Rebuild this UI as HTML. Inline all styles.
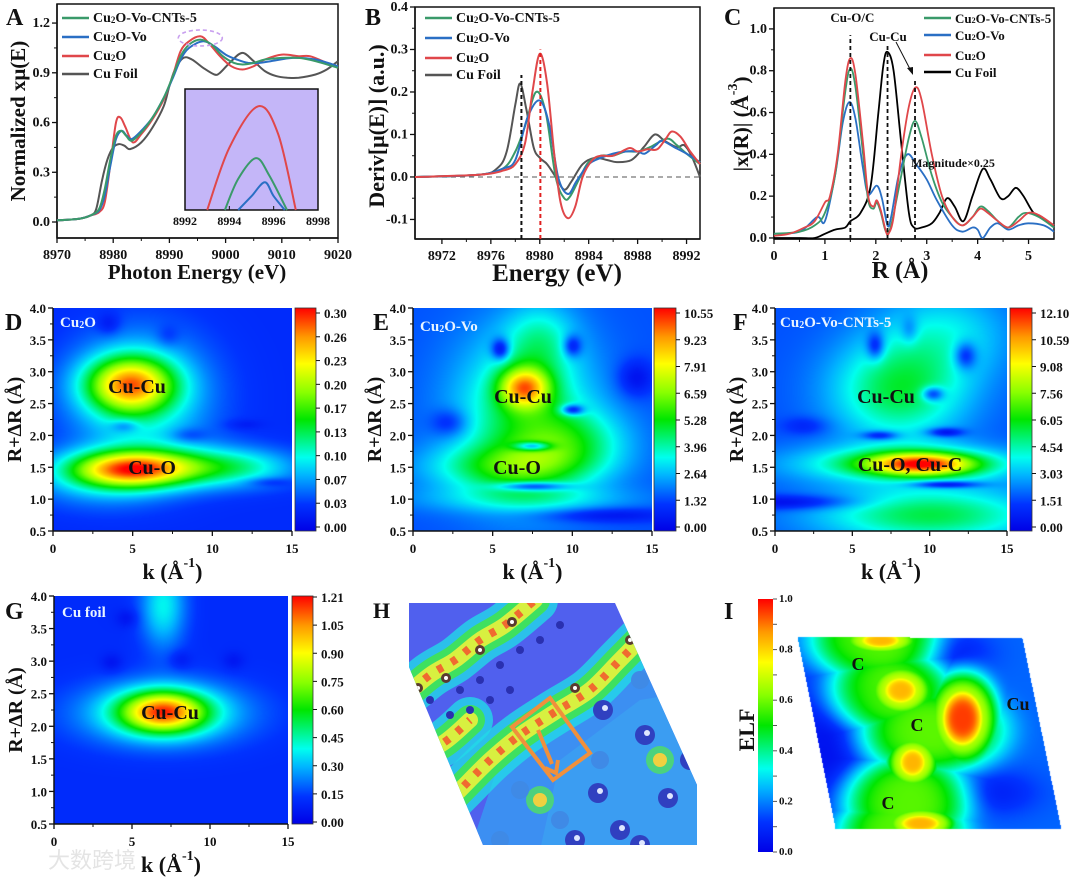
<!DOCTYPE html>
<html><head><meta charset="utf-8"><title>XAS / EXAFS figure</title>
<style>
html,body{margin:0;padding:0;background:#fff;}
body{width:1080px;height:880px;position:relative;overflow:hidden;font-family:"Liberation Serif",serif;}
canvas{position:absolute;display:block;}
#ov{position:absolute;left:0;top:0;}
</style></head>
<body>
<canvas id="hD" style="left:53px;top:308px" width="239" height="223"></canvas>
<canvas id="hE" style="left:413px;top:308px" width="239" height="223"></canvas>
<canvas id="hF" style="left:775px;top:308px" width="232" height="223"></canvas>
<canvas id="hG" style="left:54px;top:596px" width="234" height="228"></canvas>
<canvas id="hI" style="left:795px;top:634px" width="268" height="198"></canvas>
<svg id="ov" width="1080" height="880" xmlns="http://www.w3.org/2000/svg">
<defs>
<linearGradient id="jet" x1="0" y1="1" x2="0" y2="0">
<stop offset="0" stop-color="#0000e6"/><stop offset="0.12" stop-color="#0033ff"/><stop offset="0.25" stop-color="#00b4ff"/><stop offset="0.33" stop-color="#00ffee"/><stop offset="0.5" stop-color="#00e600"/><stop offset="0.62" stop-color="#88ff00"/><stop offset="0.75" stop-color="#ffff00"/><stop offset="0.87" stop-color="#ff9900"/><stop offset="1" stop-color="#ff0000"/>
</linearGradient>
<clipPath id="hclip"><polygon points="409,603 615,603 697,785 697,845 483,845 409,667"/></clipPath>
</defs>
</svg>
<script>
// ---------- DATA ----------
const seriesNames=["Cu_2O-Vo-CNTs-5","Cu_2O-Vo","Cu_2O","Cu Foil"];
const seriesColorsA=["#3a9a6a","#2a6fc4","#e0474a","#555555"];
const seriesColorsC=["#3a9a6a","#2a6fc4","#e0474a","#000000"];
// Panel A: normalized XANES
const aCnts=[[8970,0.01],[8974,0.02],[8976,0.04],[8977.5,0.08],[8978.5,0.2],[8979.5,0.38],[8980.5,0.52],[8981.4,0.55],[8982.3,0.52],[8983.3,0.49],[8985,0.54],[8987,0.63],[8989,0.75],[8990.5,0.87],[8992,1.0],[8993.5,1.07],[8995.5,1.1],[8997.5,1.07],[8999.5,1.0],[9001.5,0.96],[9003,0.95],[9005,0.96],[9007,0.98],[9010,0.99],[9013,0.99],[9016,0.97],[9020,0.93]];
const aVo=[[8970,0.01],[8974,0.02],[8976,0.04],[8977.5,0.07],[8978.5,0.16],[8979.5,0.34],[8980.5,0.5],[8981.5,0.55],[8982.4,0.52],[8983.3,0.5],[8985,0.55],[8987,0.63],[8989,0.75],[8990.5,0.86],[8992,0.98],[8993.5,1.05],[8996,1.09],[8998,1.06],[9000,1.01],[9002,0.98],[9004,0.96],[9006,0.96],[9008,0.97],[9012,0.99],[9016,0.98],[9020,0.94]];
const aCu2O=[[8970,0.01],[8974,0.02],[8976,0.04],[8977.5,0.06],[8978.5,0.12],[8979.5,0.35],[8980.5,0.6],[8981.3,0.63],[8982.2,0.57],[8983.5,0.48],[8985,0.53],[8987,0.62],[8989,0.74],[8990.5,0.87],[8992,1.03],[8993.5,1.09],[8995.5,1.12],[8997,1.08],[8999,1.0],[9001,0.94],[9003,0.92],[9005,0.94],[9007,0.98],[9010,1.01],[9013,1.0],[9015,1.0],[9018,0.96],[9020,0.93]];
const aFoil=[[8970,0.01],[8974,0.02],[8976,0.04],[8977,0.08],[8978,0.25],[8979,0.38],[8980,0.45],[8981,0.47],[8982,0.46],[8983,0.44],[8985,0.48],[8987,0.57],[8989,0.7],[8990,0.82],[8991,0.92],[8992.5,0.99],[8994,0.98],[8996,0.93],[8998,0.89],[8999,0.9],[9001,0.97],[9003,1.02],[9005,0.97],[9007,0.91],[9009,0.88],[9011,0.87],[9013,0.87],[9016,0.89],[9018,0.92],[9020,0.97]];
const aInsetCnts=[[8993.8,1.09],[8994.4,1.099],[8995.2,1.105],[8995.8,1.1],[8996.6,1.09]];
const aInsetVo=[[8994.4,1.09],[8995.0,1.094],[8995.6,1.098],[8996,1.094],[8996.5,1.09]];
const aInsetCu2O=[[8993,1.09],[8994,1.108],[8995.3,1.12],[8996.2,1.112],[8997,1.09]];
const aXTicks=[8970,8980,8990,9000,9010,9020];
const aYTicks=[0.0,0.3,0.6,0.9,1.2];
const aInsetXTicks=[8992,8994,8996,8998];
// Panel B: derivative
const bCnts=[[8969.8,0],[8975,0.005],[8977,0.02],[8978,0.06],[8978.8,0.12],[8979.7,0.2],[8980.5,0.15],[8981.3,0.0],[8982,-0.05],[8982.5,-0.045],[8983.3,0.0],[8984,0.035],[8985,0.05],[8986,0.05],[8987,0.06],[8988,0.06],[8989,0.07],[8990.4,0.09],[8991.2,0.075],[8992,0.055],[8993.1,0.03]];
const bVo=[[8969.8,0],[8975,0.005],[8977,0.02],[8978,0.04],[8979,0.14],[8980,0.18],[8980.8,0.12],[8981.5,0.0],[8982.3,-0.04],[8983,-0.01],[8984,0.03],[8985,0.045],[8986,0.055],[8987,0.06],[8988,0.06],[8988.6,0.055],[8989.5,0.075],[8990,0.085],[8991,0.07],[8992,0.055],[8993.1,0.035]];
const bCu2O=[[8969.8,0],[8975,0.005],[8977,0.015],[8978,0.03],[8978.8,0.08],[8979.4,0.2],[8980,0.29],[8980.6,0.22],[8981.2,0.05],[8981.7,-0.06],[8982.3,-0.097],[8982.9,-0.07],[8983.5,0.0],[8984.3,0.04],[8985,0.05],[8986,0.05],[8987.3,0.068],[8988,0.06],[8988.8,0.065],[8989.6,0.065],[8990.3,0.09],[8990.8,0.107],[8991.5,0.095],[8992.3,0.06],[8993.1,0.03]];
const bFoil=[[8969.8,0],[8975,0.005],[8976.5,0.02],[8977.3,0.06],[8978,0.17],[8978.4,0.22],[8978.9,0.16],[8979.5,0.07],[8980,0.045],[8980.6,0.03],[8981.3,0.0],[8982,-0.03],[8982.6,-0.01],[8983.5,0.03],[8984.5,0.045],[8985.5,0.04],[8986.3,0.035],[8987.5,0.04],[8988.5,0.07],[8989.4,0.1],[8990.2,0.085],[8991.2,0.07],[8991.8,0.075],[8992.4,0.05],[8993.1,0.0]];
const bXTicks=[8972,8976,8980,8984,8988,8992];
const bYTicks=[-0.1,0.0,0.1,0.2,0.3,0.4];
const bEdges=[8978.5,8980.05];
const bEdgeTops=[0.24,0.3];
// Panel C: FT-EXAFS
const cCnts=[[0,0.02],[0.5,0.03],[0.8,0.06],[1.0,0.12],[1.2,0.3],[1.4,0.7],[1.5,0.81],[1.6,0.72],[1.75,0.4],[1.85,0.18],[1.95,0.14],[2.02,0.17],[2.1,0.12],[2.2,0.03],[2.3,0.06],[2.5,0.3],[2.65,0.48],[2.77,0.56],[2.9,0.48],[3.1,0.3],[3.3,0.17],[3.5,0.1],[3.7,0.06],[3.9,0.1],[4.05,0.15],[4.2,0.13],[4.4,0.08],[4.6,0.05],[4.8,0.1],[4.95,0.12],[5.2,0.1],[5.5,0.05]];
const cVo=[[0,0.02],[0.5,0.03],[0.85,0.1],[1.0,0.08],[1.2,0.3],[1.35,0.55],[1.48,0.65],[1.6,0.57],[1.75,0.33],[1.85,0.21],[2.02,0.25],[2.12,0.19],[2.23,0.06],[2.3,0.1],[2.45,0.3],[2.62,0.4],[2.8,0.35],[3.0,0.28],[3.2,0.18],[3.5,0.06],[3.7,0.03],[3.9,0.05],[4.0,0.04],[4.1,0.0],[4.25,0.05],[4.4,0.07],[4.6,0.04],[4.8,0.06],[5.0,0.07],[5.3,0.06],[5.5,0.03]];
const cCu2O=[[0,0.01],[0.3,0.02],[0.6,0.05],[0.8,0.08],[1.0,0.17],[1.1,0.2],[1.25,0.4],[1.4,0.75],[1.5,0.86],[1.6,0.78],[1.75,0.45],[1.85,0.2],[1.95,0.15],[2.02,0.18],[2.1,0.13],[2.2,0.03],[2.25,0.02],[2.35,0.1],[2.5,0.4],[2.65,0.63],[2.78,0.72],[2.9,0.66],[3.1,0.4],[3.3,0.2],[3.5,0.1],[3.7,0.06],[3.9,0.1],[4.05,0.14],[4.2,0.12],[4.4,0.08],[4.6,0.05],[4.8,0.08],[5.0,0.12],[5.2,0.11],[5.5,0.06]];
const cFoil=[[0,0.0],[0.5,0.0],[0.8,0.0],[1.0,0.02],[1.2,0.04],[1.4,0.05],[1.5,0.08],[1.7,0.12],[1.9,0.25],[2.05,0.6],[2.15,0.83],[2.23,0.89],[2.35,0.8],[2.5,0.45],[2.65,0.12],[2.75,0.05],[2.9,0.05],[3.1,0.07],[3.25,0.12],[3.4,0.19],[3.55,0.15],[3.72,0.08],[3.9,0.2],[4.1,0.33],[4.25,0.28],[4.45,0.19],[4.6,0.2],[4.75,0.24],[4.9,0.2],[5.1,0.12],[5.3,0.09],[5.5,0.06]];
const cXTicks=[0,1,2,3,4,5];
const cYTicks=[0.0,0.2,0.4,0.6,0.8,1.0];
const cPeaks=[1.5,2.23,2.77];
const cPeakTops=[0.97,0.93,0.76];
// Heatmaps: blobs [k, R, relative amplitude, sigma k, sigma R]
const dBg=0.1;
const dBlobs=[[4.8,1.47,0.62,2.6,0.2],[9,1.5,0.25,3.5,0.22],[4.8,2.8,0.6,1.9,0.3],[5.5,2.6,0.25,3,0.7],[3,1.3,0.15,3,0.3],[12,1.5,0.12,2.5,0.2],[3.5,3.75,-0.08,0.5,0.12],[4.5,2.15,-0.12,0.6,0.07],[8.5,2.0,-0.08,0.8,0.08],[13.5,1.27,-0.08,1,0.05],[7.2,3.55,-0.06,0.5,0.12],[12,2.17,-0.05,0.8,0.06]];
const eBg=0.15;
const eBlobs=[[7,2.75,0.5,1.1,0.22],[7,2.3,0.3,3,0.9],[6,1.5,0.25,3.5,0.25],[10,1.9,0.2,2.5,0.35],[8,3.5,0.15,1.5,0.4],[7,1.0,0.12,5,0.15],[5.5,3.35,-0.25,0.4,0.12],[10,3.4,-0.2,0.4,0.12],[14,2.9,-0.12,0.8,0.2],[2.3,2.2,-0.12,0.8,0.15],[10,2.4,-0.3,0.5,0.06],[7.5,1.83,-0.35,0.8,0.05],[7.5,1.2,-0.3,1.5,0.05],[12,0.75,-0.12,3,0.08]];
const fBg=0.15;
const fBlobs=[[9.5,1.55,0.55,2.4,0.12],[8.5,1.55,0.3,5,0.2],[8,2.7,0.3,3,0.55],[10,0.75,0.3,5,0.3],[11,3.6,0.15,3,0.5],[1,0.95,-0.15,3,0.08],[6.5,3.4,-0.2,0.4,0.15],[12.3,3.25,-0.2,0.5,0.15],[10.2,2.65,-0.25,0.5,0.08],[6.8,2.0,-0.2,0.8,0.05],[11,2.05,-0.2,0.8,0.05],[11,1.23,-0.25,1.5,0.04],[2,2.15,-0.08,1,0.1],[8.7,3.65,-0.1,0.4,0.15]];
const gBg=0.1;
const gBlobs=[[7,2.22,0.6,1.9,0.22],[7,2.2,0.28,3.6,0.33],[7,3.85,0.22,1,0.45],[3.7,2.97,-0.06,0.5,0.1],[8.1,3.02,-0.06,0.5,0.1],[4.7,3.66,-0.06,0.5,0.1],[11.5,3.0,-0.05,0.5,0.1]];
const hmXTicks=[0,5,10,15];
const hmYTicks=[0.5,1.0,1.5,2.0,2.5,3.0,3.5,4.0];
const dCbLabels=["0.00","0.03","0.07","0.10","0.13","0.17","0.20","0.23","0.26","0.30"];
const eCbLabels=["0.00","1.32","2.64","3.96","5.28","6.59","7.91","9.23","10.55"];
const fCbLabels=["0.00","1.51","3.03","4.54","6.05","7.56","9.08","10.59","12.10"];
const gCbLabels=["0.00","0.15","0.30","0.45","0.60","0.75","0.90","1.05","1.21"];
const iCbLabels=["0.0","0.2","0.4","0.6","0.8","1.0"];
// ELF map: positive blobs combined by max [x px, y px, value, sx, sy]; negatives added
const iBg=0.17;
const iBlobs=[[874,640,0.58,58,40],[888,690,0.58,56,40],[930,730,0.58,66,40],[905,800,0.58,58,40],[900,828,0.58,58,35],[880,640,0.72,36,13],[900,690,0.72,30,24],[912,762,0.72,24,24],[920,823,0.72,33,15],[962,718,0.72,32,42],[880,640,0.84,24,9],[900,690,0.84,20,16],[912,762,0.84,16,17],[920,823,0.84,24,10],[962,718,0.95,22,30]];
const iDips=[[828,745,-0.13,30,60],[955,652,-0.09,25,15],[995,792,-0.09,30,16]];

// ---------- HELPERS ----------
const NS='http://www.w3.org/2000/svg';
const svg=document.getElementById('ov');
function mk(tag,attrs,parent){const e=document.createElementNS(NS,tag);for(const k in attrs)e.setAttribute(k,attrs[k]);(parent||svg).appendChild(e);return e;}
function txt(x,y,s,size,name,opts){
  opts=opts||{};
  const t=mk('text',{x:x,y:y,'font-size':size,'font-weight':opts.w||'bold','text-anchor':opts.a||'start','dominant-baseline':'central',fill:opts.fill||'#111','font-family':opts.ff||'"Liberation Serif",serif'});
  
  
  if(opts.rot)t.setAttribute('transform','rotate('+opts.rot+' '+x+' '+y+')');
  const parts=s.split(/(_\d|\^[-\d⁻]+)/);
  parts.forEach(p=>{
    if(!p)return;
    const ts=document.createElementNS(NS,'tspan');
    if(p[0]==='_'){ts.textContent=p.slice(1);ts.setAttribute('font-size',Math.round(size*0.65));ts.setAttribute('baseline-shift','-25%');}
    else if(p[0]==='^'){ts.textContent=p.slice(1);ts.setAttribute('font-size',Math.round(size*0.65));ts.setAttribute('baseline-shift','super');}
    else{ts.textContent=p;}
    t.appendChild(ts);
  });
  return t;
}
function scale(d0,d1,p0,p1){return v=>p0+(v-d0)/(d1-d0)*(p1-p0);}
function smoothPath(pts){
  let d='M'+pts[0][0].toFixed(1)+','+pts[0][1].toFixed(1);
  for(let i=0;i<pts.length-1;i++){
    const p0=pts[i-1]||pts[i],p1=pts[i],p2=pts[i+1],p3=pts[i+2]||p2;
    const c1=[p1[0]+(p2[0]-p0[0])/6,p1[1]+(p2[1]-p0[1])/6];
    const c2=[p2[0]-(p3[0]-p1[0])/6,p2[1]-(p3[1]-p1[1])/6];
    d+='C'+c1[0].toFixed(1)+','+c1[1].toFixed(1)+' '+c2[0].toFixed(1)+','+c2[1].toFixed(1)+' '+p2[0].toFixed(1)+','+p2[1].toFixed(1);
  }
  return d;
}
function drawAxes(c){
  const frame=mk('rect',{x:c.x0,y:c.y0,width:c.x1-c.x0,height:c.y1-c.y0,fill:'none',stroke:'#111','stroke-width':c.frame?1.5:0});
  
  
  const ax=mk('line',{x1:c.x0,y1:c.y1,x2:c.x1,y2:c.y1,stroke:'#111','stroke-width':1.5});
  
  
  const ay=mk('line',{x1:c.x0,y1:c.y0,x2:c.x0,y2:c.y1,stroke:'#111','stroke-width':1.5});
  
  
  c.xt.forEach((v,i)=>{
    const x=c.sx(v);
    const tk=mk('line',{x1:x,y1:c.y1,x2:x,y2:c.y1+5,stroke:'#111','stroke-width':1.3});
    
    
    txt(x,c.y1+17,c.xf(v),c.fs||14,c.id+'-x-tick-label',{a:'middle'});
    if(i<c.xt.length-1){const xm=c.sx((v+c.xt[i+1])/2);
      const mt=mk('line',{x1:xm,y1:c.y1,x2:xm,y2:c.y1+3,stroke:'#111','stroke-width':1});
      
      }
  });
  c.yt.forEach((v,i)=>{
    const y=c.sy(v);
    const tk=mk('line',{x1:c.x0-5,y1:y,x2:c.x0,y2:y,stroke:'#111','stroke-width':1.3});
    
    
    txt(c.x0-7,y,c.yf(v),c.fs||14,c.id+'-y-tick-label',{a:'end'});
    if(i<c.yt.length-1){const ym=c.sy((v+c.yt[i+1])/2);
      const mt=mk('line',{x1:c.x0-3,y1:ym,x2:c.x0,y2:ym,stroke:'#111','stroke-width':1});
      
      }
  });
}
function drawSeries(pts,sx,sy,color,name,w){
  const p=mk('path',{d:smoothPath(pts.map(q=>[sx(q[0]),sy(q[1])])),fill:'none',stroke:color,'stroke-width':w||2,'stroke-linejoin':'round'});
  
  
  return p;
}
function legend(x,ys,colors,id,fs){
  seriesNames.forEach((n,i)=>{
    const l=mk('line',{x1:x,y1:ys[i],x2:x+27,y2:ys[i],stroke:colors[i],'stroke-width':2.5});
    
    
    txt(x+31,ys[i],n,fs||14,id+'-legend-label-'+i);
  });
}
const stops=[[0,[0,0,230]],[0.12,[0,51,255]],[0.25,[0,180,255]],[0.33,[0,255,238]],[0.5,[0,230,0]],[0.62,[136,255,0]],[0.75,[255,255,0]],[0.87,[255,153,0]],[1,[255,0,0]]];
function cmap(t){t=Math.max(0,Math.min(1,t));for(let i=0;i<stops.length-1;i++){const a=stops[i],b=stops[i+1];if(t<=b[0]){const f=(t-a[0])/(b[0]-a[0]);return a[1].map((v,j)=>v+(b[1][j]-v)*f);}}return stops[stops.length-1][1];}
function fieldVal(bg,blobs,x,y){let v=bg;for(const b of blobs){const dx=(x-b[0])/b[3],dy=(y-b[1])/b[4];v+=b[2]*Math.exp(-0.5*(dx*dx+dy*dy));}return v;}
function fieldMax(bg,blobs,dips,x,y){let v=bg;for(const b of blobs){const dx=(x-b[0])/b[3],dy=(y-b[1])/b[4];const r=dx*dx+dy*dy;const g=bg+(b[2]-bg)*Math.exp(-0.6*r*r);if(g>v)v=g;}
  for(const b of dips){const dx=(x-b[0])/b[3],dy=(y-b[1])/b[4];v+=b[2]*Math.exp(-0.5*(dx*dx+dy*dy));}return v;}
function renderHeat(id,bg,blobs){
  const cv=document.getElementById(id),ctx=cv.getContext('2d'),W=cv.width,H=cv.height,img=ctx.createImageData(W,H);
  for(let j=0;j<H;j++)for(let i=0;i<W;i++){
    const k=(i+0.5)/W*15,R=4.0-(j+0.5)/H*3.5;
    const c=cmap(fieldVal(bg,blobs,k,R)),o=(j*W+i)*4;
    img.data[o]=c[0];img.data[o+1]=c[1];img.data[o+2]=c[2];img.data[o+3]=255;}
  ctx.putImageData(img,0,0);
}
function heatPanel(id,x0,x1,y0,y1,cbx0,cbx1,cbLab,cbTop,cbBot){
  const sx=scale(0,15,x0,x1),sy=scale(0.5,4.0,y1,y0);
  drawAxes({id:id,x0:x0,x1:x1,y0:y0,y1:y1,sx:sx,sy:sy,xt:hmXTicks,yt:hmYTicks,xf:v=>String(v),yf:v=>v.toFixed(1),fs:13});
  const cb=mk('rect',{x:cbx0,y:y0,width:cbx1-cbx0,height:y1-y0,fill:'url(#jet)',stroke:'#333','stroke-width':0.8});
  
  
  const n=cbLab.length;
  cbLab.forEach((s,i)=>{
    const y=cbBot+(cbTop-cbBot)*i/(n-1);
    const tk=mk('line',{x1:cbx1,y1:y,x2:cbx1+4,y2:y,stroke:'#111','stroke-width':1});
    
    
    txt(cbx1+8,y,s,13,id+'-colorbar-label');
  });
  txt((x0+x1)/2,y1+40,'k (Å^-1)',22,id+'-x-axis-title',{a:'middle'});
  txt(x0-38,(y0+y1)/2,'R+ΔR (Å)',20,id+'-y-axis-title',{a:'middle',rot:-90});
}

// ---------- PANEL A ----------
(function(){
  const x0=57,x1=338,y0=4,y1=238;
  const sx=scale(8970,9020,x0,x1),sy=scale(-0.0965,1.315,y1,y0);
  drawAxes({id:'a',x0,x1,y0,y1,sx,sy,xt:aXTicks,yt:aYTicks,xf:v=>String(v),yf:v=>v.toFixed(1),frame:true});
  [aCnts,aVo,aCu2O,aFoil].slice().reverse().forEach((s,ri)=>{const i=3-ri;drawSeries(s,sx,sy,seriesColorsA[i],'a-series-'+i,2);});
  const el=mk('ellipse',{cx:sx(8995.5),cy:sy(1.11),rx:22,ry:8,fill:'none',stroke:'#c9a0ef','stroke-width':1.6,'stroke-dasharray':'4,3'});
  
  
  const ix0=185,ix1=318,iy0=89,iy1=210;
  const box=mk('rect',{x:ix0,y:iy0,width:ix1-ix0,height:iy1-iy0,fill:'#c4b6f8',stroke:'#111','stroke-width':1.5});
  
  
  const isx=scale(8992,8998,ix0,ix1),isy=scale(1.09,1.125,iy1,iy0);
  drawSeries(aInsetCu2O,isx,isy,'#e0474a','a-inset-cu2o',2);
  drawSeries(aInsetCnts,isx,isy,'#3a9a6a','a-inset-cnts',2);
  drawSeries(aInsetVo,isx,isy,'#2a6fc4','a-inset-vo',2);
  aInsetXTicks.forEach(v=>{
    const tk=mk('line',{x1:isx(v),y1:iy1,x2:isx(v),y2:iy1-4,stroke:'#111','stroke-width':1});
    
    
    txt(isx(v),iy1+11,String(v),12,'a-inset-tick-label',{a:'middle'});});
  legend(62,[18,37,56,74],seriesColorsA,'a');
  txt(197,272,'Photon Energy (eV)',21,'a-x-axis-title',{a:'middle'});
  txt(18,121,'Normalized xμ(E)',21,'a-y-axis-title',{a:'middle',rot:-90});
  txt(6,18,'A',24,'panel-label-a');
})();

// ---------- PANEL B ----------
(function(){
  const x0=415,x1=700,y0=7,y1=239;
  const sx=scale(8969.8,8993.1,x0,x1),sy=scale(-0.146,0.4,y1,y0);
  drawAxes({id:'b',x0,x1,y0,y1,sx,sy,xt:bXTicks,yt:bYTicks,xf:v=>String(v),yf:v=>v.toFixed(1),frame:true});
  const zl=mk('line',{x1:x0,y1:sy(0),x2:x1,y2:sy(0),stroke:'#777','stroke-width':1.3,'stroke-dasharray':'5,4'});
  
  
  [bFoil,bCnts,bVo,bCu2O].forEach((s,k)=>{const i=[3,0,1,2][k];drawSeries(s,sx,sy,seriesColorsA[i],'b-series-'+i,2);});
  bEdges.forEach((e,i)=>{
    const l=mk('line',{x1:sx(e),y1:y1,x2:sx(e),y2:sy(bEdgeTops[i]),stroke:i?'#e02020':'#111','stroke-width':2,'stroke-dasharray':'4,3'});
    
    });
  legend(425,[18,38,58,75],seriesColorsA,'b');
  txt(557,273,'Energy (eV)',25,'b-x-axis-title',{a:'middle'});
  txt(376,126,'Deriv[μ(E)] (a.u.)',22,'b-y-axis-title',{a:'middle',rot:-90});
  txt(365,18,'B',24,'panel-label-b');
})();

// ---------- PANEL C ----------
(function(){
  const x0=774,x1=1054,y0=8,y1=239;
  const sx=scale(0,5.5,x0,x1),sy=scale(-0.005,1.1,y1,y0);
  drawAxes({id:'c',x0,x1,y0,y1,sx,sy,xt:cXTicks,yt:cYTicks,xf:v=>String(v),yf:v=>v.toFixed(1),frame:true});
  [cFoil,cVo,cCnts,cCu2O].forEach((s,k)=>{const i=[3,1,0,2][k];drawSeries(s,sx,sy,seriesColorsC[i],'c-series-'+i,1.8);});
  cPeaks.forEach((r,i)=>{
    const l=mk('line',{x1:sx(r),y1:y1,x2:sx(r),y2:sy(cPeakTops[i]),stroke:'#111','stroke-width':1.8,'stroke-dasharray':'4,3'});
    
    });
  txt(sx(cPeaks[0])+2,17,'Cu-O/C',13,'c-annotation-cuo',{a:'middle'});
  txt(888,36,'Cu-Cu',13,'c-annotation-cucu',{a:'middle'});
  const ar=mk('line',{x1:896,y1:42,x2:911,y2:71,stroke:'#111','stroke-width':1});
  
  
  const ah=mk('polygon',{points:'913,75 907,68 913,67',fill:'#111'});
  
  
  txt(953,163,'Magnitude×0.25',12,'c-annotation-magnitude',{a:'middle'});
  legend(924,[18,35,55,72],seriesColorsC,'c',13);
  txt(900,271,'R (Å)',24,'c-x-axis-title',{a:'middle'});
  txt(741,124,'|x(R)| (Å^-3)',21,'c-y-axis-title',{a:'middle',rot:-90});
  txt(724,18,'C',24,'panel-label-c');
})();

// ---------- HEATMAPS ----------
renderHeat('hD',dBg,dBlobs);
renderHeat('hE',eBg,eBlobs);
renderHeat('hF',fBg,fBlobs);
renderHeat('hG',gBg,gBlobs);
heatPanel('d',53,292,308,531,295,316,dCbLabels,313,527);
heatPanel('e',413,652,308,531,654,676,eCbLabels,313,527);
heatPanel('f',775,1007,308,531,1010,1032,fCbLabels,313,527);
heatPanel('g',54,288,596,824,292,313,gCbLabels,597,822);
txt(60,323,'Cu_2O',15,'d-sample-label',{fill:'#e8f4ff'});
txt(137,387,'Cu-Cu',20,'d-cucu-label',{a:'middle'});
txt(152,468,'Cu-O',20,'d-cuo-label',{a:'middle'});
txt(420,327,'Cu_2O-Vo',15,'e-sample-label',{fill:'#e8f4ff'});
txt(523,397,'Cu-Cu',20,'e-cucu-label',{a:'middle'});
txt(517,468,'Cu-O',20,'e-cuo-label',{a:'middle'});
txt(780,323,'Cu_2O-Vo-CNTs-5',15,'f-sample-label',{fill:'#e8f4ff'});
txt(886,397,'Cu-Cu',20,'f-cucu-label',{a:'middle'});
txt(910,465,'Cu-O, Cu-C',20,'f-cuo-cuc-label',{a:'middle'});
txt(62,613,'Cu foil',15,'g-sample-label',{fill:'#e8f4ff'});
txt(170,713,'Cu-Cu',20,'g-cucu-label',{a:'middle'});
txt(5,323,'D',24,'panel-label-d');
txt(373,323,'E',24,'panel-label-e');
txt(733,323,'F',24,'panel-label-f');
txt(5,612,'G',24,'panel-label-g');

// ---------- PANEL H (structure ELF slice) ----------
(function(){
  const g=mk('g',{'clip-path':'url(#hclip)'});
  
  
  mk('rect',{x:400,y:600,width:300,height:250,fill:'#5060ee'},g);
  mk('polygon',{points:'500,760 560,700 640,650 700,620 700,850 470,850',fill:'#3c8ff2'},g);
  mk('polygon',{points:'560,760 640,700 700,690 700,850 540,850',fill:'#3aa6f2',opacity:0.6},g);
  const bands=[[[400,700],[430,675],[455,660],[480,640],[505,625],[535,600]],[[430,820],[460,790],[490,760],[520,735],[555,712],[590,690],[620,660],[650,630],[680,605]],[[400,760],[440,745],[470,720]]];
  bands.forEach(b=>{
    const d=smoothPath(b);
    mk('path',{d:d,fill:'none',stroke:'#22d8e8','stroke-width':46,'stroke-linecap':'round',opacity:0.8},g);
    mk('path',{d:d,fill:'none',stroke:'#3ee060','stroke-width':30,'stroke-linecap':'round'},g);
    mk('path',{d:d,fill:'none',stroke:'#d8f040','stroke-width':16,'stroke-linecap':'round'},g);
    mk('path',{d:d,fill:'none',stroke:'#f06a30','stroke-width':8,'stroke-dasharray':'6,10'},g);
  });
  [[540,800],[665,660],[660,760]].forEach(p=>{mk('circle',{cx:p[0],cy:p[1],r:14,fill:'#50e060',opacity:0.8},g);mk('circle',{cx:p[0],cy:p[1],r:7,fill:'#f0d040'},g);});
  [[460,690],[480,680],[500,665],[520,650],[540,640],[560,625],[470,710],[490,700],[510,690],[430,700],[450,715]].forEach(p=>mk('circle',{cx:p[0],cy:p[1],r:4,fill:'#2a30b0'},g));
  [[603,710],[645,735],[598,793],[668,798],[575,840],[620,830],[690,760],[640,845]].forEach(p=>{mk('circle',{cx:p[0],cy:p[1],r:10,fill:'#3040c0'},g);mk('circle',{cx:p[0]+2,cy:p[1]-2,r:3,fill:'#dfe6ff'},g);});
  [[520,790],[560,820],[600,760],[500,840],[680,690],[640,680]].forEach(p=>mk('circle',{cx:p[0],cy:p[1],r:9,fill:'#3f8ae6'},g));
  [[512,622],[480,650],[446,678],[418,688],[575,688],[630,640]].forEach(p=>{mk('circle',{cx:p[0],cy:p[1],r:5,fill:'#5a3a30'},g);mk('circle',{cx:p[0],cy:p[1],r:2,fill:'#fff'},g);});
  const rect=mk('polygon',{points:'512,727 550,698 590,753 553,780',fill:'none',stroke:'#f0903c','stroke-width':4});
  
  
  const arr=mk('path',{d:'M538,730 L552,764 M545,768 L556,773 L558,760',fill:'none',stroke:'#f0903c','stroke-width':4});
  
  
  txt(373,610,'H',22,'panel-label-h');
})();

// ---------- PANEL I (ELF) ----------
(function(){
  const poly=[[797,636],[1022,638],[1061,829],[835,828]];
  function inside(x,y){let c=false;for(let i=0,j=poly.length-1;i<poly.length;j=i++){const a=poly[i],b=poly[j];if(((a[1]>y)!==(b[1]>y))&&(x<(b[0]-a[0])*(y-a[1])/(b[1]-a[1])+a[0]))c=!c;}return c;}
  const cv=document.getElementById('hI'),ctx=cv.getContext('2d'),W=cv.width,H=cv.height,img=ctx.createImageData(W,H);
  for(let j=0;j<H;j++)for(let i=0;i<W;i++){
    const X=795+i,Y=634+j,o=(j*W+i)*4;
    if(!inside(X,Y)){img.data[o+3]=0;continue;}
    const c=cmap(fieldMax(iBg,iBlobs,iDips,X,Y));
    img.data[o]=c[0];img.data[o+1]=c[1];img.data[o+2]=c[2];img.data[o+3]=255;}
  ctx.putImageData(img,0,0);
  const cb=mk('rect',{x:758,y:599,width:15,height:253,fill:'url(#jet)'});
  
  
  for(let k=0;k<=10;k++){const y=852-253*k/10;
    const tk=mk('line',{x1:773,y1:y,x2:777,y2:y,stroke:'#555','stroke-width':1});
    
    }
  iCbLabels.forEach((s,k)=>txt(779,852-253*k/5,s,11,'i-colorbar-label'));
  txt(746,730,'ELF',22,'i-colorbar-title',{a:'middle',rot:-90});
  txt(858,664,'C',18,'i-atom-label-c1',{a:'middle'});
  txt(917,725,'C',18,'i-atom-label-c2',{a:'middle'});
  txt(888,803,'C',18,'i-atom-label-c3',{a:'middle'});
  txt(1018,704,'Cu',18,'i-atom-label-cu',{a:'middle'});
  txt(724,612,'I',24,'panel-label-i');
})();

// watermark
txt(48,860,'大数跨境',22,'watermark',{fill:'#e4e4e4',w:'normal',ff:'"Liberation Sans","Noto Sans CJK SC",sans-serif'});
</script>
</body></html>
